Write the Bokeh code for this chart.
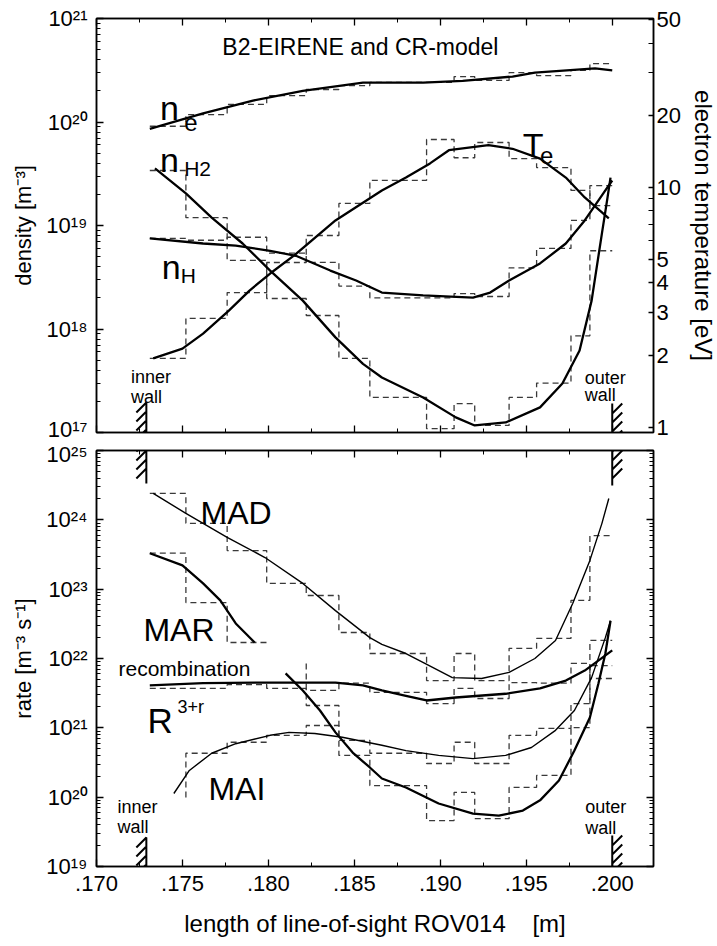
from bokeh.plotting import figure
from bokeh.models import (Range1d, LogScale, LogAxis, LinearAxis, FixedTicker,
                          Label, PolyAnnotation, CustomJSTickFormatter, CustomLabelingPolicy)
from bokeh.layouts import column
from bokeh.embed import file_html
from bokeh.resources import INLINE

FONT = "Liberation Sans"

# ---------------- data ----------------
x_ticks = [0.170, 0.175, 0.180, 0.185, 0.190, 0.195, 0.200]
x_minor = [0.1725, 0.1775, 0.1825, 0.1875, 0.1925, 0.1975]
dens_ticks = [1e17, 1e18, 1e19, 1e20, 1e21]
rate_ticks = [1e19, 1e20, 1e21, 1e22, 1e23, 1e24, 1e25]
te_labelled = [1, 2, 3, 4, 5, 10, 20, 50]
te_unlabelled = [6, 7, 8, 9, 30, 40]

# grid cells along the line of sight (dashed histograms)
bin_edges = [0.1731, 0.1752, 0.1776, 0.1799, 0.1822, 0.1841, 0.1859, 0.1892,
             0.1908, 0.1920, 0.1940, 0.1956, 0.1976, 0.1987, 0.2000]
wall_x = [0.1729, 0.2000]

# top panel: densities [m^-3] and electron temperature [eV]
ne_x = [0.1731, 0.1762, 0.1791, 0.1820, 0.1855, 0.1890, 0.1913, 0.1942, 0.1955, 0.1990, 0.2000]
ne = [8.6e19, 1.21e20, 1.61e20, 2.0e20, 2.4e20, 2.4e20, 2.5e20, 2.75e20, 3.0e20, 3.3e20, 3.15e20]
ne_step = [9.1e19, 1.18e20, 1.48e20, 1.8e20, 2.06e20, 2.25e20, 2.41e20, 2.41e20,
           2.75e20, 2.52e20, 3.0e20, 2.8e20, 3.15e20, 3.67e20]

nh2_x = [0.1734, 0.1752, 0.1767, 0.1785, 0.1801, 0.1820, 0.1839, 0.1855, 0.1866, 0.1890,
         0.1909, 0.1920, 0.1938, 0.1958, 0.1971, 0.1981, 0.1988, 0.1994, 0.1997, 0.1999]
nh2 = [3.56e19, 2.04e19, 1.19e19, 6.7e18, 3.67e18, 1.88e18, 8.3e17, 4.6e17, 3.4e17, 2.18e17,
       1.40e17, 1.17e17, 1.25e17, 1.75e17, 2.97e17, 6.2e17, 1.88e18, 8.4e18, 1.75e19, 2.9e19]
nh2_step = [3.4e19, 1.19e19, 4.6e18, 1.97e18, 1.35e18, 5.2e17, 2.18e17, 1.09e17,
            1.9e17, 1.17e17, 2.18e17, 3.0e17, 8.6e17, 5.7e18]

nh_x = [0.1731, 0.1762, 0.1781, 0.1801, 0.1816, 0.1836, 0.1851, 0.1866, 0.1890, 0.1919,
        0.1929, 0.1940, 0.1958, 0.1973, 0.1984, 0.1996, 0.2000]
nh = [7.5e18, 6.7e18, 6.4e18, 5.7e18, 5.1e18, 3.67e18, 2.94e18, 2.25e18, 2.11e18, 2.01e18,
      2.25e18, 2.94e18, 4.3e18, 6.7e18, 1.12e19, 2.18e19, 2.72e19]
nh_step = [7.5e18, 7.2e18, 7.7e18, 5.4e18, 4.4e18, 2.6e18, 2.0e18, 2.0e18,
           2.2e18, 2.06e18, 3.9e18, 6.0e18, 1.12e19, 2.43e19]

te_x = [0.1733, 0.1750, 0.1762, 0.1777, 0.1789, 0.1801, 0.1815, 0.1839, 0.1866, 0.1880,
        0.1894, 0.1905, 0.1928, 0.1942, 0.1958, 0.1973, 0.1984, 0.1996, 0.1998]
te = [1.94, 2.13, 2.46, 3.07, 3.72, 4.38, 5.21, 7.29, 9.72, 11.0,
      12.6, 14.3, 15.0, 14.5, 13.2, 11.0, 9.09, 7.65, 7.43]
te_step = [1.94, 2.85, 3.65, 4.87, 6.31, 8.58, 10.7, 15.85, 13.3, 15.4, 13.2, 12.1, 9.72, 8.41]

# bottom panel: rates [m^-3 s^-1]
mad_x = [0.1733, 0.1752, 0.1776, 0.1798, 0.1820, 0.1839, 0.1859, 0.1866, 0.1880, 0.1891,
         0.1907, 0.1924, 0.1940, 0.1955, 0.1967, 0.1977, 0.1987, 0.1994, 0.1998]
mad = [2.4e24, 1.24e24, 5.6e23, 2.86e23, 1.21e23, 4.9e22, 2.0e22, 1.6e22, 1.18e22, 8.5e21,
       5.3e21, 5.15e21, 6.3e21, 1.0e22, 1.82e22, 6.2e22, 2.6e23, 8.9e23, 2.03e24]
mad_step = [2.4e24, 8.9e23, 3.6e23, 1.21e23, 8.1e22, 2.37e22, 1.18e22, 4.8e21,
            1.18e22, 4.8e21, 1.4e22, 1.95e22, 6.9e22, 5.9e23]

mar_x = [0.1731, 0.1750, 0.1762, 0.1772, 0.1781, 0.1792]
mar = [3.3e23, 2.2e23, 1.21e23, 6.9e22, 3.2e22, 1.7e22]
mar_step = [3.3e23, 6.4e22, 1.7e22]

rec_x = [0.1731, 0.1762, 0.1801, 0.1820, 0.1839, 0.1855, 0.1866, 0.1880, 0.1892, 0.1909,
         0.1938, 0.1958, 0.1973, 0.1984, 0.2000]
rec = [4.1e21, 4.4e21, 4.5e21, 4.5e21, 4.5e21, 4.1e21, 3.46e21, 2.9e21, 2.48e21, 2.74e21,
       3.1e21, 3.7e21, 4.8e21, 6.7e21, 1.31e22]
rec_step = [3.7e21, 3.7e21, 4.2e21, 3.7e21, 3.46e21, 4.4e21, 3.24e21, 2.24e21,
            3.7e21, 2.65e21, 4.5e21, 4.4e21, 8.5e21, 5.15e21]

mai_x = [0.1745, 0.1754, 0.1767, 0.1781, 0.1801, 0.1812, 0.1827, 0.1843, 0.1866, 0.1880,
         0.1899, 0.1919, 0.1938, 0.1953, 0.1967, 0.1978, 0.1988, 0.1996, 0.1999]
mai = [1.13e20, 2.43e20, 4.3e20, 5.9e20, 7.8e20, 8.6e20, 8.3e20, 7.3e20, 5.6e20, 4.7e20,
       4.0e20, 3.6e20, 4.0e20, 5.2e20, 9.2e20, 1.78e21, 5.3e21, 2.0e22, 3.5e22]
mai_step_start = 9.9e19          # histogram starts in cell 2
mai_step = [4.3e20, 6.2e20, 7.8e20, 1.08e21, 6.6e20, 4.3e20, 3.06e20,
            6.2e20, 3.06e20, 7.8e20, 9.8e20, 2.24e21, 1.82e22]

mar2_x = [0.1810, 0.1820, 0.1830, 0.1839, 0.1849, 0.1859, 0.1866, 0.1880, 0.1899, 0.1919,
          0.1934, 0.1948, 0.1958, 0.1969, 0.1978, 0.1987, 0.1992, 0.1996, 0.1999]
mar2 = [6.1e21, 3.46e21, 1.78e21, 8.6e20, 4.4e20, 2.68e20, 1.86e20, 1.38e20, 8.1e19, 5.8e19,
        5.4e19, 6.4e19, 9.0e19, 1.74e20, 4.7e20, 1.41e21, 4.4e21, 1.18e22, 3.5e22]
mar2_step_start = 8.5e21         # histogram starts in cell 5
mar2_step = [2.1e21, 4.0e20, 1.47e20, 4.6e19, 1.17e20, 4.9e19, 1.38e20, 2.06e20, 1.01e21, 7.9e21]

# ---------------- layout constants ----------------
X_RANGE = (0.170, 0.2024)
FRAME_W = 557
TOP_H, BOT_H = 414, 416
TE_RANGE = (0.953, 50.6)
XPP = (X_RANGE[1] - X_RANGE[0]) / FRAME_W   # data units per pixel


def step_path(edges, vals, first=0, start=None):
    xs, ys = [], []
    if start is not None:
        xs.append(edges[first]); ys.append(start)
    for k, v in enumerate(vals):
        xs += [edges[first + k], edges[first + k + 1]]
        ys += [v, v]
    return xs, ys


def make_fig(frame_h, y_range, top, bottom):
    p = figure(frame_width=FRAME_W, frame_height=frame_h,
               x_range=Range1d(*X_RANGE), y_range=Range1d(*y_range),
               y_axis_type="log", output_backend="svg", toolbar_location=None,
               min_border_left=96, min_border_right=64,
               min_border_top=top, min_border_bottom=bottom)
    p.xgrid.visible = False
    p.ygrid.visible = False
    p.outline_line_color = "black"
    p.outline_line_width = 1.5
    return p


NO_LABELS = CustomLabelingPolicy(code="""
for (const i of indices) { indices.unset(i) }
return indices
""")
EMPTY_FMT = CustomJSTickFormatter(code="return '';")


def style(ax, show=True, standoff=8):
    ax.major_tick_in = 7
    ax.major_tick_out = 0
    ax.minor_tick_in = 4
    ax.minor_tick_out = 0
    ax.axis_line_width = 1.5
    ax.axis_line_color = "black"
    ax.major_tick_line_width = 1.3
    ax.minor_tick_line_width = 1.0
    ax.major_label_text_font = FONT
    ax.major_label_text_font_size = "22px"
    ax.major_label_text_color = "black"
    ax.major_label_standoff = standoff if show else 0
    ax.axis_label_text_font = FONT
    ax.axis_label_text_font_size = "22px"
    ax.axis_label_text_font_style = "normal"
    ax.axis_label_text_color = "black"
    if not show:
        ax.formatter = EMPTY_FMT
        ax.major_label_policy = NO_LABELS


pow_fmt = CustomJSTickFormatter(code=r"""
const sup = {"0":"\u2070","1":"\u00b9","2":"\u00b2","3":"\u00b3","4":"\u2074",
             "5":"\u2075","6":"\u2076","7":"\u2077","8":"\u2078","9":"\u2079","-":"\u207b"};
const e = Math.round(Math.log10(tick));
let s = "";
for (const c of String(e)) s += sup[c];
return "10" + s;
""")
x_fmt = CustomJSTickFormatter(code="return tick.toFixed(3).replace(/^0/, '');")
te_fmt = CustomJSTickFormatter(code="return String(Math.round(tick));")


def minor_log(lo, hi):
    out = []
    e = lo
    while e < hi:
        out += [k * 10.0 ** e for k in range(2, 10)]
        e += 1
    return out


def x_axes(p, show_bottom):
    bx = p.xaxis[0]
    bx.ticker = FixedTicker(ticks=x_ticks, minor_ticks=x_minor)
    if show_bottom:
        bx.formatter = x_fmt
    style(bx, show=show_bottom, standoff=9)
    ax = LinearAxis(ticker=FixedTicker(ticks=x_ticks, minor_ticks=x_minor))
    style(ax, show=False)
    p.add_layout(ax, "above")
    return bx


def hatch(p, ymin, ppd, y0, y1, xw, side):
    """Wall marker: vertical line with short strokes, drawn as one zig-zag path."""
    def yv(off):
        return ymin * 10 ** (off / ppd)
    dx = 10 * XPP
    xs, ys = [xw], [yv(y0)]
    b = y0
    while b - 10 >= y1:
        c, f = (b, b - 10) if side < 0 else (b - 10, b)
        xs += [xw, xw + side * dx, xw]
        ys += [yv(c), yv(f), yv(c)]
        b -= 9
    xs.append(xw); ys.append(yv(y1))
    p.add_layout(PolyAnnotation(xs=xs, ys=ys, xs_units="data", ys_units="data",
                                line_color="black", line_alpha=1.0, line_width=2,
                                fill_color=None, fill_alpha=0))


def label(p, x, y, text, size, **kw):
    p.add_layout(Label(x=x, y=y, text=text, text_font=FONT, text_font_size=size,
                       text_color="black", text_baseline="alphabetic", **kw))


DASH = dict(line_color="#3a3a3a", line_width=1.3, line_dash="6 4")
SOLID = dict(line_color="black", line_width=2.3)
THIN = dict(line_color="black", line_width=1.4)

# ---------------- top panel ----------------
p1 = make_fig(TOP_H, (1e17, 1e21), 18, 9)
p1.extra_y_ranges = {"te": Range1d(*TE_RANGE)}
p1.extra_y_scales = {"te": LogScale()}

ly = p1.yaxis[0]
ly.ticker = FixedTicker(ticks=dens_ticks, minor_ticks=minor_log(17, 21))
ly.formatter = pow_fmt
ly.axis_label = "density [m\u207b\u00b3]"
style(ly, standoff=9)
ly.axis_label_standoff = 7

ry = LogAxis(y_range_name="te", ticker=FixedTicker(ticks=te_labelled, minor_ticks=te_unlabelled),
             formatter=te_fmt, axis_label="electron temperature [eV]")
style(ry, standoff=3)
ry.major_tick_in = 5
ry.minor_tick_in = 5
ry.axis_label_text_font_size = "24px"
ry.axis_label_standoff = 6
p1.add_layout(ry, "right")
x_axes(p1, False)

for vals in [ne_step, nh2_step, nh_step]:
    sx, sy = step_path(bin_edges, vals)
    p1.line(sx, sy, **DASH)
sx, sy = step_path(bin_edges, te_step)
p1.line(sx, sy, y_range_name="te", **DASH)

p1.line(ne_x, ne, **SOLID)
p1.line(nh2_x, nh2, **SOLID)
p1.line(nh_x, nh, **SOLID)
p1.line(te_x, te, y_range_name="te", **SOLID)

label(p1, 0.18535, 5.25e20, "B2-EIRENE and CR-model", "23px", text_align="center")
label(p1, 0.1737, 1.38e20, "n", "34px")
label(p1, 0.1751, 1.0e20, "e", "24px")
label(p1, 0.1737, 4.25e19, "n", "34px")
label(p1, 0.1751, 3.56e19, "H2", "21px")
label(p1, 0.1738, 3.93e18, "n", "34px")
label(p1, 0.1749, 3.29e18, "H", "21px")
label(p1, 0.1948, 5.93e19, "T", "34px")
label(p1, 0.1958, 4.74e19, "e", "24px")
label(p1, 0.1720, 3.47e17, "inner", "18px")
label(p1, 0.1720, 2.18e17, "wall", "18px")
label(p1, 0.1984, 3.33e17, "outer", "18px")
label(p1, 0.1984, 2.28e17, "wall", "18px")

hatch(p1, 1e17, TOP_H / 4, 30, -13, wall_x[0], -1)
hatch(p1, 1e17, TOP_H / 4, 29, -13, wall_x[1], +1)

# ---------------- bottom panel ----------------
p2 = make_fig(BOT_H, (1e19, 1e25), 9, 80)
ly2 = p2.yaxis[0]
ly2.ticker = FixedTicker(ticks=rate_ticks, minor_ticks=minor_log(19, 25))
ly2.formatter = pow_fmt
ly2.axis_label = "rate [m\u207b\u00b3 s\u207b\u00b9]"
style(ly2, standoff=9)
ly2.axis_label_standoff = 7

ry2 = LogAxis(ticker=FixedTicker(ticks=rate_ticks, minor_ticks=minor_log(19, 25)))
style(ry2, show=False)
p2.add_layout(ry2, "right")
bx2 = x_axes(p2, True)
bx2.axis_label = "length of line-of-sight ROV014\u00a0\u00a0\u00a0\u00a0[m]"
bx2.axis_label_text_font_size = "24px"
bx2.axis_label_standoff = 16

for vals in [mad_step, rec_step, mar_step]:
    sx, sy = step_path(bin_edges, vals)
    p2.line(sx, sy, **DASH)
sx, sy = step_path(bin_edges, mai_step, first=1, start=mai_step_start)
p2.line(sx, sy, **DASH)
sx, sy = step_path(bin_edges, mar2_step, first=4, start=mar2_step_start)
p2.line(sx, sy, **DASH)

p2.line(mad_x, mad, **THIN)
p2.line(mai_x, mai, **THIN)
p2.line(mar_x, mar, **SOLID)
p2.line(rec_x, rec, **SOLID)
p2.line(mar2_x, mar2, **SOLID)

label(p2, 0.17605, 1.24e24, "MAD", "32px")
label(p2, 0.17273, 2.54e22, "MAR", "32px")
label(p2, 0.17128, 7.2e21, "recombination", "21px")
label(p2, 0.17297, 1.28e21, "R", "35px")
label(p2, 0.17471, 2.03e21, "3+r", "18px")
label(p2, 0.17651, 1.33e20, "MAI", "32px")
label(p2, 0.17122, 7.3e19, "inner", "18px")
label(p2, 0.17122, 3.66e19, "wall", "18px")
label(p2, 0.19843, 7.3e19, "outer", "18px")
label(p2, 0.19843, 3.54e19, "wall", "18px")

ppd2 = BOT_H / 6
hatch(p2, 1e19, ppd2, BOT_H + 9, BOT_H - 33, wall_x[0], -1)
hatch(p2, 1e19, ppd2, BOT_H + 9, BOT_H - 35, wall_x[1], +1)
hatch(p2, 1e19, ppd2, 29, -14, wall_x[0], -1)
hatch(p2, 1e19, ppd2, 31, -9, wall_x[1], +1)

layout = column(p1, p2, spacing=0)
with open("out.html", "w", encoding="utf-8") as f:
    f.write(file_html(layout, INLINE))
